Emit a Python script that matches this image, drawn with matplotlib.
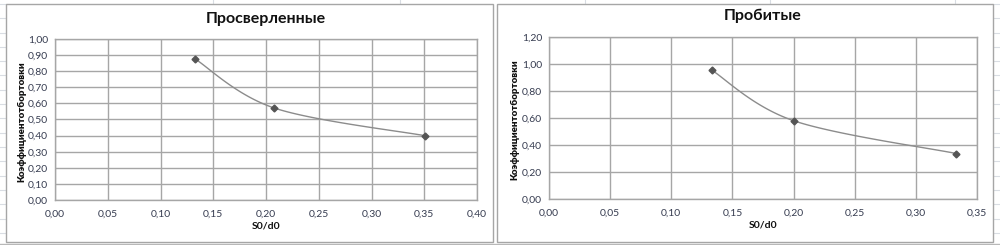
import numpy as np
import matplotlib
matplotlib.use("Agg")
import matplotlib.pyplot as plt
from matplotlib.patches import Rectangle
from matplotlib.lines import Line2D
from matplotlib.ticker import FuncFormatter

# --- data ---
drilled_x = [0.133, 0.208, 0.351]
drilled_y = [0.875, 0.571, 0.399]
punched_x = [0.133, 0.200, 0.333]
punched_y = [0.955, 0.580, 0.337]

titles = ["Просверленные", "Пробитые"]
x_label = "S0/d0"
y_label = "Коэффициентотбортовки"

W, H = 1000, 245
plt.rcParams["font.family"] = ["Lato", "DejaVu Sans"]

fig = plt.figure(figsize=(W / 100, H / 100), dpi=100)
fig.patch.set_facecolor("white")


def px_rect(x0, y0, x1, y1):
    # pixel box (top-left origin) -> figure fraction [l, b, w, h]
    return [x0 / W, 1 - y1 / H, (x1 - x0) / W, (y1 - y0) / H]


# spreadsheet cell lines behind the charts
cell = "#d9dde3"
for y in np.arange(4, H, 14.3):
    fig.add_artist(Line2D([0, 6 / W], [1 - y / H] * 2, color=cell, lw=0.8,
                          zorder=-2))
    fig.add_artist(Line2D([993 / W, 1], [1 - y / H] * 2, color=cell, lw=0.8,
                          zorder=-2))
for x in [213, 400, 585, 770, 955]:
    fig.add_artist(Line2D([x / W] * 2, [1, 1 - 4 / H], color=cell, lw=0.8,
                          zorder=-2))
fig.add_artist(Line2D([0, 1], [1 - 243.5 / H] * 2, color="#b8b8b8", lw=1.0,
                      zorder=-2))

# chart frames
for x0, x1 in [(6, 493), (497, 993)]:
    l, b, w, h = px_rect(x0, 4, x1, 242)
    fig.add_artist(Rectangle((l, b), w, h, transform=fig.transFigure,
                             facecolor="white", edgecolor="#a6a6a6", lw=1.0,
                             zorder=-1))


def smooth(xs, ys, ax):
    # Excel style smoothed line: bezier segments through the points
    pts = ax.transData.transform(np.column_stack([xs, ys]))
    n = len(pts)
    out = []
    t = np.linspace(0, 1, 40)[:, None]
    for i in range(n - 1):
        p0 = pts[max(i - 1, 0)]
        p1 = pts[i]
        p2 = pts[i + 1]
        p3 = pts[min(i + 2, n - 1)]
        c1 = p1 + (p2 - p0) / 6
        c2 = p2 - (p3 - p1) / 6
        seg = ((1 - t) ** 3) * p1 + 3 * ((1 - t) ** 2) * t * c1 \
            + 3 * (1 - t) * t ** 2 * c2 + t ** 3 * p2
        out.append(seg)
    out = np.vstack(out)
    return ax.transData.inverted().transform(out)


comma = FuncFormatter(lambda v, p: f"{v:.2f}".replace(".", ","))

specs = [
    dict(box=(55, 39, 477, 200), xmax=0.40, ymax=1.00, ystep=0.10,
         xs=drilled_x, ys=drilled_y, title=titles[0], ty=19, xly=226, yl=22),
    dict(box=(549, 37, 977, 199), xmax=0.35, ymax=1.20, ystep=0.20,
         xs=punched_x, ys=punched_y, title=titles[1], ty=16, xly=225, yl=515),
]

for s in specs:
    x0, y0, x1, y1 = s["box"]
    ax = fig.add_axes(px_rect(x0, y0, x1, y1))
    ax.set_facecolor("none")
    ax.set_xlim(0, s["xmax"])
    ax.set_ylim(0, s["ymax"])
    ax.set_xticks(np.arange(0, s["xmax"] + 1e-9, 0.05))
    ax.set_yticks(np.arange(0, s["ymax"] + 1e-9, s["ystep"]))
    ax.xaxis.set_major_formatter(comma)
    ax.yaxis.set_major_formatter(comma)
    ax.grid(True, color="#a6a6a6", lw=1.0)
    ax.set_axisbelow(True)
    for sp in ax.spines.values():
        sp.set_color("#a6a6a6")
        sp.set_linewidth(1.0)
    ax.tick_params(length=0, labelsize=7.5, colors="#363c50", pad=7)
    ax.tick_params(axis="y", pad=5)

    fig.canvas.draw()
    curve = smooth(s["xs"], s["ys"], ax)
    ax.plot(curve[:, 0], curve[:, 1], color="#8c8c8c", lw=1.0, zorder=3)
    ax.plot(s["xs"], s["ys"], ls="none", marker="D", ms=3.5,
            color="#555555", zorder=4)

    cx = (x0 + x1) / 2
    fig.text(cx / W, 1 - s["ty"] / H, s["title"], ha="center", va="center",
             fontsize=11.5, fontweight="bold", color="#111111")
    fig.text(cx / W, 1 - s["xly"] / H, x_label, ha="center", va="center",
             fontsize=7.5, fontweight="bold", color="#111111")
    fig.text(s["yl"] / W, 1 - ((y0 + y1) / 2 + 2) / H, y_label, ha="center",
             va="center", rotation=90, fontsize=7, fontweight="heavy",
             color="#111111")

fig.savefig("out.png", dpi=100, facecolor="white")
